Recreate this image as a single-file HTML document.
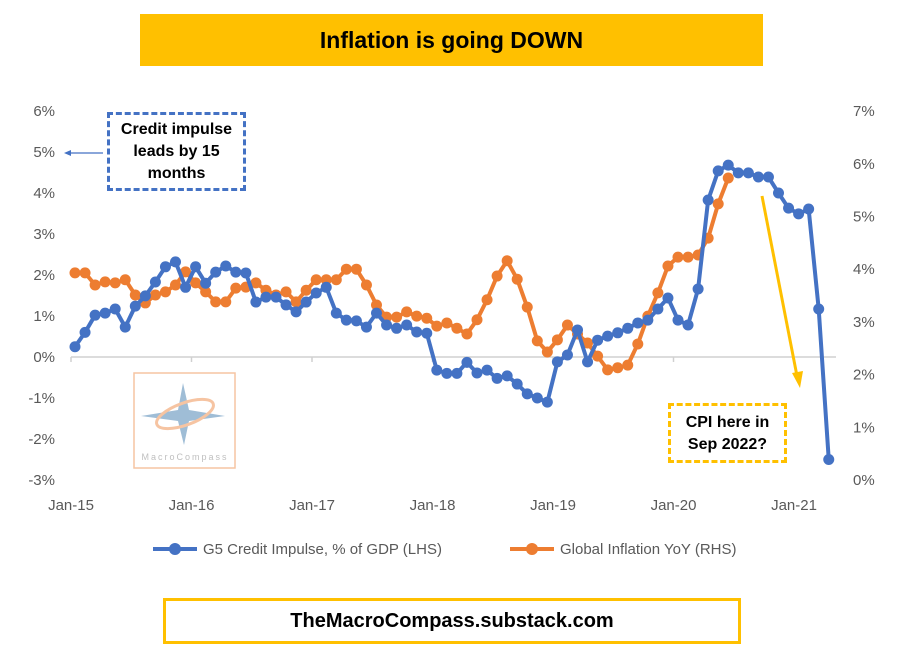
<!DOCTYPE html>
<html><head><meta charset="utf-8"><style>
body{margin:0;background:#fff;font-family:"Liberation Sans",sans-serif;}
#wrap{position:relative;width:910px;height:671px;overflow:hidden;background:#fff;}
.title{position:absolute;left:140px;top:14px;width:623px;height:52px;background:#FFC000;font-weight:bold;font-size:23px;line-height:52px;text-align:center;color:#000;}
.foot{position:absolute;left:163px;top:598px;width:572px;height:40px;border:3px solid #FFC000;font-weight:bold;font-size:20px;line-height:40px;text-align:center;}
.note{position:absolute;font-weight:bold;font-size:16px;text-align:center;line-height:22px;}
</style></head><body>
<div id="wrap">
<div class="title">Inflation is going DOWN</div>
<svg id="chart" width="910" height="671" style="position:absolute;left:0;top:0"></svg>
<div class="note" style="left:107px;top:112px;width:139px;height:79px;border:3px dashed #4472C4;padding-top:4px;box-sizing:border-box;">Credit impulse leads by 15 months</div>
<div class="note" style="left:668px;top:403px;width:119px;height:60px;border:3px dashed #FFC000;padding-top:6px;box-sizing:border-box;">CPI here in Sep 2022?</div>
<div class="foot">TheMacroCompass.substack.com</div>
</div>
<script>
const xLabels=["Jan-15","Jan-16","Jan-17","Jan-18","Jan-19","Jan-20","Jan-21"];
const leftTicks=["-3%","-2%","-1%","0%","1%","2%","3%","4%","5%","6%"];
const rightTicks=["0%","1%","2%","3%","4%","5%","6%","7%"];
const creditImpulse=[0.25,0.6,1.02,1.07,1.17,0.73,1.24,1.49,1.83,2.2,2.32,1.7,2.2,1.8,2.07,2.22,2.07,2.05,1.34,1.46,1.46,1.27,1.1,1.34,1.56,1.7,1.07,0.9,0.88,0.73,1.07,0.78,0.7,0.78,0.61,0.58,-0.32,-0.4,-0.4,-0.13,-0.39,-0.32,-0.52,-0.46,-0.66,-0.9,-1.0,-1.1,-0.12,0.05,0.66,-0.12,0.41,0.51,0.59,0.7,0.83,0.9,1.17,1.44,0.9,0.78,1.66,3.83,4.54,4.68,4.49,4.49,4.39,4.39,4.0,3.63,3.49,3.61,1.17,-2.5];
const inflation=[3.93,3.93,3.7,3.76,3.74,3.8,3.51,3.36,3.51,3.57,3.7,3.95,3.74,3.57,3.38,3.38,3.64,3.66,3.74,3.6,3.51,3.57,3.38,3.6,3.8,3.8,3.8,4.0,4.0,3.7,3.32,3.09,3.09,3.19,3.11,3.07,2.92,2.98,2.88,2.77,3.04,3.42,3.87,4.16,3.81,3.28,2.64,2.43,2.66,2.94,2.77,2.6,2.35,2.09,2.13,2.18,2.58,3.11,3.55,4.06,4.23,4.23,4.27,4.59,5.24,5.73];
const svg=document.getElementById('chart');const NS="http://www.w3.org/2000/svg";
function mk(t,a,p){const e=document.createElementNS(NS,t);for(const k in a)e.setAttribute(k,a[k]);(p||svg).appendChild(e);return e;}
const xS=i=>75+i*10.05;
const yL=v=>357-v*41;
const yR=v=>480-v*52.7;
const lab={fill:"#595959","font-size":"15","font-family":"Liberation Sans, sans-serif"};
leftTicks.forEach((t,i)=>{const e=mk('text',Object.assign({x:55,y:yL(i-3)+5,"text-anchor":"end"},lab));e.textContent=t;

});
rightTicks.forEach((t,i)=>{const e=mk('text',Object.assign({x:853,y:yR(i)+5},lab));e.textContent=t;

});
const ax=mk('line',{x1:71,y1:yL(0),x2:836,y2:yL(0),stroke:"#d0d0d0","stroke-width":1.5});


xLabels.forEach((t,i)=>{const x=71+i*120.5;
const tk=mk('line',{x1:x,y1:yL(0),x2:x,y2:yL(0)+5,stroke:"#d0d0d0","stroke-width":1.5});


const e=mk('text',Object.assign({x:x,y:510,"text-anchor":"middle"},lab));e.textContent=t;

});
function series(data,yf,col,name){const g=mk('g',{});


mk('polyline',{points:data.map((v,i)=>xS(i)+","+yf(v)).join(" "),fill:"none",stroke:col,"stroke-width":4,"stroke-linejoin":"round"},g);
data.forEach((v,i)=>{const c=mk('circle',{cx:xS(i),cy:yf(v),r:5.5,fill:col},g);

});}
series(inflation,yR,"#ED7D31","inflation-series");
series(creditImpulse,yL,"#4472C4","credit-impulse-series");
// legend
const lg=mk('g',{});


mk('line',{x1:153,y1:549,x2:197,y2:549,stroke:"#4472C4","stroke-width":4},lg);mk('circle',{cx:175,cy:549,r:6,fill:"#4472C4"},lg);
let t1=mk('text',Object.assign({x:203,y:554},lab),lg);t1.textContent="G5 Credit Impulse, % of GDP (LHS)";
mk('line',{x1:510,y1:549,x2:554,y2:549,stroke:"#ED7D31","stroke-width":4},lg);mk('circle',{cx:532,cy:549,r:6,fill:"#ED7D31"},lg);
let t2=mk('text',Object.assign({x:560,y:554},lab),lg);t2.textContent="Global Inflation YoY (RHS)";
// arrows
const a1=mk('g',{});


mk('line',{x1:103,y1:153,x2:70,y2:153,stroke:"#4472C4","stroke-width":1.2},a1);
mk('polygon',{points:"64,153 71,150 71,156",fill:"#4472C4"},a1);
const a2=mk('g',{});


mk('line',{x1:762,y1:196,x2:797,y2:376,stroke:"#FFC000","stroke-width":3},a2);
mk('polygon',{points:"800,388 792,373 803,371",fill:"#FFC000"},a2);
// logo
const lo=mk('g',{opacity:0.75});


mk('rect',{x:134,y:373,width:101,height:95,fill:"none",stroke:"#F4B183","stroke-width":1.5},lo);
mk('polygon',{points:"183,383 189,410 225,416 189,421 184,445 178,421 141,416 178,410",fill:"#7FA7C9"},lo);
mk('ellipse',{cx:185,cy:414,rx:30,ry:11,fill:"none",stroke:"#F4B183","stroke-width":3,transform:"rotate(-20 185 414)"},lo);
let lt=mk('text',{x:185,y:460,"text-anchor":"middle","font-size":"9",fill:"#aaa","letter-spacing":"2","font-family":"Liberation Sans, sans-serif"},lo);lt.textContent="MacroCompass";
</script>
</body></html>
